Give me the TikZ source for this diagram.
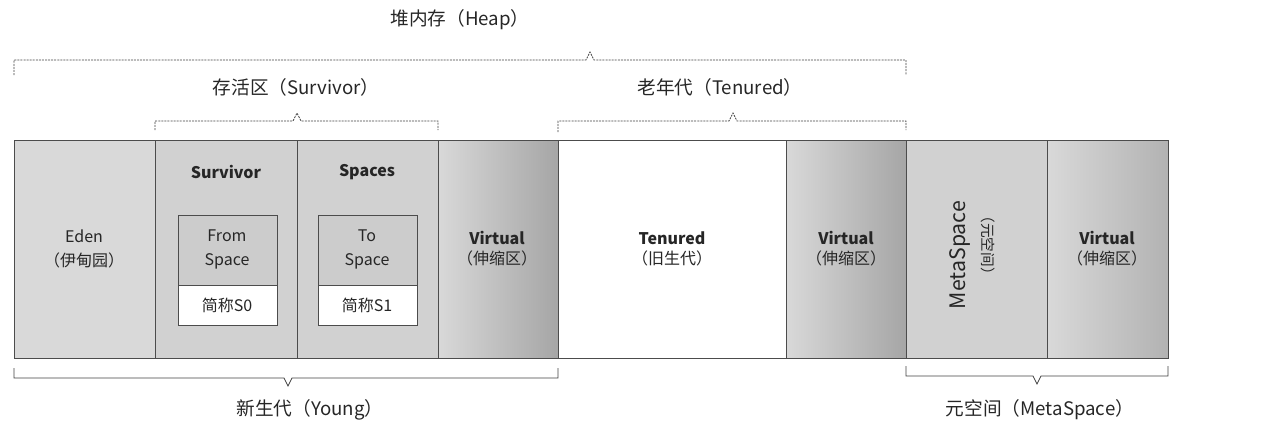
\documentclass[tikz,border=0pt]{standalone}
\usepackage{fontspec}
\setmainfont{Noto Sans CJK SC}
\begin{document}
\begin{tikzpicture}[x=0.75pt,y=-0.75pt,
  box/.style={draw=black!70,line width=0.5pt},
  br/.style={draw=black!75,line width=0.6pt,dash pattern=on 1.5pt off 0.8pt},
  lab/.style={font=\fontsize{14}{16}\selectfont,text=black!85},
  t/.style={font=\fontsize{12}{18}\selectfont,align=center,text=black!85},
  tb/.style={font=\bfseries\fontsize{12}{18}\selectfont,align=center,text=black!85}]
\useasboundingbox (0,0) rectangle (1268,443);
% boxes
\fill[black!15] (14,140) rectangle (155,358);
\fill[black!18] (155,140) rectangle (438,358);
\shade[left color=black!15,right color=black!35] (438,140) rectangle (558,358);
\fill[white] (558,140) rectangle (786,358);
\shade[left color=black!15,right color=black!35] (786,140) rectangle (906,358);
\fill[black!18] (906,140) rectangle (1047,358);
\shade[left color=black!15,right color=black!30] (1047,140) rectangle (1168,358);
\foreach \a/\b in {14/155,155/297,297/438,438/558,558/786,786/906,906/1047,1047/1168}
  \draw[box] (\a,140) rectangle (\b,358);
\node[t] (eden) at (84,249) {Eden\\（伊甸园）};
\node[tb] (surv) at (226,172) {Survivor};
\node[tb] (spac) at (367,172) {Spaces};
\draw[box,fill=black!20] (178,215) rectangle (277,285);
\draw[box,fill=white] (178,285) rectangle (277,325);
\draw[box,fill=black!20] (318,215) rectangle (417,285);
\draw[box,fill=white] (318,285) rectangle (417,325);
\node[t] (from) at (227,249) {From\\Space};
\node[t] (s0) at (227,305) {简称S0};
\node[t] (to) at (367,249) {To\\Space};
\node[t] (s1) at (367,305) {简称S1};
\node[tb] (v1) at (497,249) {Virtual\\[-3pt]\mdseries（伸缩区）};
\node[tb] (ten) at (672,249) {Tenured\\[-3pt]\mdseries（旧生代）};
\node[tb] (v2) at (846,249) {Virtual\\[-3pt]\mdseries（伸缩区）};
\node[font=\fontsize{16}{18}\selectfont,rotate=90,text=black!85] (ms) at (960,255) {MetaSpace};
\node[font=\fontsize{11}{12}\selectfont,rotate=270,text=black!85] (ms2) at (988,245) {（元空间）};
\node[tb] (v3) at (1107,249) {Virtual\\[-3pt]\mdseries（伸缩区）};
% braces
\draw[br] (14,75) -- (14,60) -- (586,60) -- (590,52) -- (594,60) -- (906,60) -- (906,75);
\node[lab] (heap) at (460,20) {堆内存（Heap）};
\draw[br] (155,130) -- (155,121) -- (293,121) -- (297,113) -- (301,121) -- (438,121) -- (438,130);
\node[lab] (sl) at (296,87) {存活区（Survivor）};
\draw[br] (558,132) -- (558,121) -- (729,121) -- (733,113) -- (737,121) -- (906,121) -- (906,130);
\node[lab] (tl) at (720,87) {老年代（Tenured）};
\draw[draw=black!75,line width=0.6pt] (14,368) -- (14,378) -- (284,378) -- (288,386) -- (292,378) -- (558,378) -- (558,368);
\node[lab] (yl) at (310,410) {新生代（Young）};
\draw[draw=black!75,line width=0.6pt] (906,366) -- (906,376) -- (1033,376) -- (1037,384) -- (1041,376) -- (1168,376) -- (1168,366);
\node[lab] (ml) at (1040,410) {元空间（MetaSpace）};
\end{tikzpicture}
\end{document}
